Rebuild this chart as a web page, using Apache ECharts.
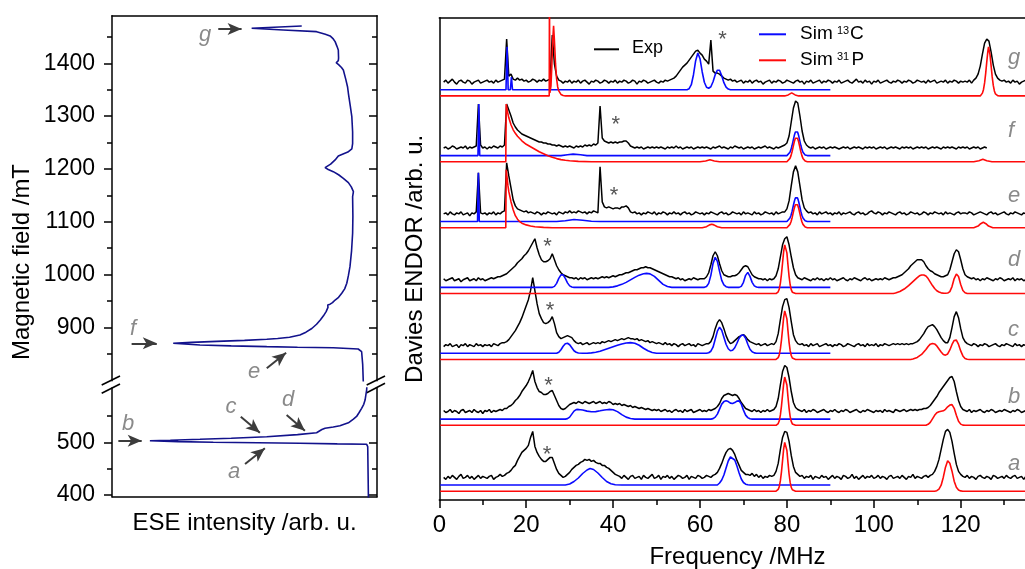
<!DOCTYPE html>
<html>
<head>
<meta charset="utf-8">
<script src="https://cdn.jsdelivr.net/npm/echarts@6/dist/echarts.min.js"></script>
<style>html,body{margin:0;padding:0;background:#fff}#c{width:1025px;height:569px}</style>
</head>
<body>
<div id="c"></div>
<script>
// ---------- ESE field sweep: [intensity (arb. u., 0-100), field (mT)] ----------
const eseUpper = [[71.6,1470.6],[52.7,1466.3],[64.6,1463.0],[77.2,1459.8],[80.5,1455],[82.3,1451.7],[83.5,1446],[84.2,1440.9],[84.9,1432],[85.4,1425.2],[85.5,1410],[85.4,1405],[84.6,1401],[85.6,1396.8],[86.6,1392],[87.3,1387.3],[88.2,1370],[88.9,1355],[89.2,1343.2],[89.9,1320],[90.5,1298.9],[90.8,1270],[90.8,1248],[90.5,1238],[89.0,1232],[86.5,1227],[85.4,1224.5],[84.2,1217],[82.5,1209],[80.4,1202.4],[81.6,1199],[83.5,1194.8],[85.5,1189],[87.3,1182.3],[89.2,1174],[90.3,1166],[91.1,1157],[90.8,1147.5],[90.9,1110],[90.8,1078.2],[90.4,1045],[89.8,1015],[89.2,998],[88.6,983.6],[87.8,973],[86.7,964.6],[85.5,957],[84.2,951.9],[83.2,947],[82.3,944],[81.4,942.5],[81.5,938],[80.8,930],[79.8,922],[78.6,914],[77.2,906],[75.4,898],[73.2,891],[70.9,885.7],[67,881.5],[62.5,879],[58.4,877.6],[50,875.5],[39.5,873.6],[30,871.8],[23.1,870.0],[33.2,866.8],[45,865.2],[58.4,863.6],[70,862.6],[83.5,861.7],[92.9,859.2],[94.2,854.1],[94.6,830],[94.8,800.5],[95.0,780]];
const eseLower = [[96.3,620],[96.1,599.2],[95.8,590],[95.5,580.2],[95.0,572],[94.2,564.5],[93.2,556],[92.3,549],[91.1,544],[89.2,537],[86.0,531.5],[83.5,529],[80.4,526.6],[79.2,524.2],[78.7,521.5],[77.2,518.2],[70,514.5],[58.4,510.6],[45,507.8],[33.2,505.7],[22,504],[14.3,503.0],[25,501.2],[38.2,500.0],[55,499],[70.9,498.1],[85,497],[96.1,496.2],[96.5,491.7],[96.8,380]];
const fieldRangeUpper = [799.2, 1490];
const fieldRangeLower = [396.8, 603];
const fieldMajorUpper = [900, 1000, 1100, 1200, 1300, 1400];
const fieldMinorUpper = [850, 950, 1050, 1150, 1250, 1350, 1450];
const fieldMajorLower = [400, 500];
const fieldMinorLower = [450, 550];
// field positions pointed at (from -> to), [x1, B1, x2, B2]
const arrowsUpper = [[40.1,1464.9,48.9,1464.9],[7.4,870.0,16.9,870.0],[58.4,822.7,65.7,852.2]];
const arrowsLower = [[2.4,503.0,11.2,503.0],[48.6,548.6,55.8,518.2],[65.9,551.8,72.8,522.0],[50.2,458.8,57.7,488.6]];

// ---------- Davies ENDOR spectra ----------
// experimental traces sampled every 0.5 MHz starting at 1.0 MHz
const expStart = 1.0, expStep = 0.5;
const expA = [
 0,-2,1,-1,2,0,-2,1,3,-1,0,2,-1,1,-2,0,2,-1,1,0,
 -1,1,2,-2,0,1,3,1,2,4,5,7,10,12,17,21,25,27,29,32,
 40,46,31,25,21,18,16,16,18,20,20,14,8,4,2,0,1,3,5,8,
 10,12,13,15,16,18,17,18,16,17,15,14,14,12,12,10,9,7,5,3,
 2,1,-1,2,0,-2,1,2,-1,0,1,-2,2,0,-1,1,3,-1,0,2,
 -2,1,0,2,-1,1,-2,0,2,1,-1,0,2,-2,1,0,-1,2,1,-1,
 0,2,1,0,2,3,5,9,14,20,25,28,29,27,23,17,12,7,5,3,
 3,2,4,1,3,0,2,-1,1,0,2,1,2,6,14,28,40,46,45,36,
 22,11,5,3,1,2,-1,1,0,2,-2,1,0,-1,2,0,1,-2,0,2,
 -1,1,0,-2,2,1,-1,0,3,-1,1,-2,0,2,-1,1,0,2,-1,0,
 2,-1,1,0,-2,1,2,-1,0,1,-1,2,0,-2,1,0,3,-1,1,0,
 -1,1,2,0,2,3,6,11,18,28,38,46,48,45,36,24,13,6,3,1,
 0,2,-1,1,0,-2,1,2,0,-1,1,0,-2,2,1,-1,0,1,-1,2,
 0,-1,1,2,-1,0,1,-2,1];
const expB = [
 1,-1,0,2,-1,1,0,-2,1,2,-1,0,1,-1,2,0,-1,1,-2,1,
 0,2,-1,1,0,1,2,1,3,3,5,6,8,11,13,16,20,23,26,30,
 35,41,30,24,20,19,17,17,18,20,21,16,11,6,3,2,3,5,7,8,
 9,8,10,9,8,10,9,8,9,10,8,9,10,8,9,8,10,9,7,8,
 7,8,6,7,6,5,6,4,5,4,3,4,3,2,3,2,1,2,1,2,
 0,1,2,0,1,-1,1,2,0,1,-1,2,0,1,2,-1,0,1,2,0,
 1,0,2,1,2,3,5,8,13,16,17,18,17,16,17,16,13,9,6,3,
 2,1,0,2,0,1,-1,1,0,2,0,1,2,5,13,27,40,46,44,34,
 20,9,4,2,1,0,2,-1,1,0,2,1,-1,0,1,2,0,-1,1,0,
 2,0,-1,1,0,2,1,-1,0,1,2,0,-1,1,0,2,1,0,-1,1,
 0,1,-1,2,0,1,0,-1,2,1,0,1,2,0,1,2,1,2,1,2,
 2,3,3,4,6,9,12,15,19,22,25,28,31,34,35,30,20,11,5,2,
 1,0,2,-1,1,0,1,2,0,-1,1,0,2,1,-1,0,1,0,2,1,
 0,-1,1,0,2,1,-1,0,1];
const expC = [
 -1,1,0,2,-1,0,1,-2,1,0,2,-1,1,0,-1,2,0,1,-1,1,
 0,1,-1,2,1,0,2,3,3,4,6,9,12,15,19,23,28,34,40,46,
 55,68,55,42,32,27,23,22,23,25,29,22,13,9,7,8,9,10,9,8,
 5,3,2,3,1,2,3,1,2,3,2,3,2,4,3,4,5,4,5,6,
 5,6,7,6,7,8,7,7,6,7,5,6,5,4,5,3,4,3,2,3,
 2,1,3,1,2,0,2,1,-1,1,2,0,1,2,0,1,-1,2,1,0,
 1,2,2,4,9,17,23,26,23,17,10,5,2,3,5,7,9,10,11,9,
 6,4,3,2,1,2,0,1,2,0,1,2,1,4,12,26,39,46,47,38,
 24,11,5,2,1,2,0,1,-1,2,0,1,2,-1,0,1,2,0,1,-1,
 1,0,2,1,-1,0,2,1,0,-1,1,2,0,1,-1,2,0,1,0,2,
 -1,1,0,2,1,0,1,2,1,2,1,2,1,2,1,2,2,3,4,6,
 9,12,16,19,20,21,19,16,12,8,5,3,3,8,18,29,34,28,17,8,
 4,2,1,0,2,1,-1,1,0,2,1,-1,0,1,2,0,-1,1,0,2,
 1,0,-1,2,0,1,-1,1,0];
const expD = [
 1,-1,0,1,2,-1,0,1,-2,0,1,2,-1,0,1,-1,2,0,1,-1,
 0,1,2,1,2,3,3,4,5,6,8,10,12,14,17,19,21,24,26,29,
 33,37,41,32,25,20,18,18,19,21,26,20,14,10,7,5,4,3,2,2,
 1,2,0,2,1,2,0,1,2,1,2,1,2,3,2,3,2,3,4,3,
 4,5,5,6,7,7,8,9,10,10,11,12,12,13,12,12,11,10,9,8,
 7,6,5,4,3,3,2,1,2,0,1,-1,0,1,0,2,1,0,1,1,
 1,3,7,15,24,28,24,16,9,5,4,3,3,4,4,5,7,10,13,14,
 13,9,5,3,2,1,1,0,1,-1,1,0,1,4,11,23,35,41,43,35,
 23,12,5,2,1,0,2,1,0,-1,1,0,2,0,1,-1,1,0,2,0,
 1,-1,0,1,2,0,-1,1,0,2,1,0,-1,1,2,0,1,-1,0,1,
 0,1,0,2,1,0,1,2,2,3,4,5,7,9,11,14,16,18,20,20,
 20,18,14,11,9,8,6,5,4,3,3,4,5,10,18,26,30,28,20,11,
 5,3,2,1,2,0,1,-1,1,0,2,1,0,-1,1,0,2,1,-1,0,
 1,0,2,-1,1,0,1,-1,0];
const expE = [
 0,1,-1,2,0,-1,1,0,2,-1,0,1,-2,1,0,2,41,1,0,1,
 -1,1,0,2,-1,1,0,2,3,51,38,26,14,8,5,4,3,2,3,1,
 2,1,0,2,1,-1,1,0,2,1,0,1,-1,2,1,0,2,1,3,1,
 2,1,3,2,1,2,0,2,1,3,2,1,47,12,7,6,7,6,5,6,
 6,5,7,7,8,6,2,1,2,0,1,-1,1,0,2,1,0,2,-1,1,
 0,2,1,-1,1,0,2,0,1,-1,1,2,0,1,-1,0,2,1,0,1,
 -1,1,0,2,1,0,-1,1,2,0,1,-1,0,2,1,0,1,-1,2,0,
 1,0,-1,2,0,1,-1,0,2,1,0,1,-1,2,0,1,2,2,5,13,
 28,42,48,42,28,14,6,3,1,2,0,1,-1,2,0,1,2,0,1,-1,
 1,0,2,-1,1,0,1,2,0,-1,1,2,0,1,-1,0,2,3,1,0,
 2,1,-1,1,0,2,1,0,-1,1,2,0,1,-1,0,2,1,0,1,-1,
 0,2,1,-1,1,0,2,1,0,1,-1,2,0,1,0,-1,1,2,0,1,
 1,0,2,1,-1,0,1,2,1,0,-1,1,2,0,1,-1,0,1,2,0,
 -1,1,0,2,1,0,-1,1,0];
const expF = [
 0,1,-1,0,2,1,-1,0,1,0,2,-1,1,0,1,2,44,3,0,1,
 -1,1,0,2,1,0,2,1,3,44,38,32,25,21,18,16,14,13,12,11,
 10,9,8,7,6,6,5,5,4,4,3,3,2,3,2,1,2,1,2,1,
 0,2,1,2,1,3,2,3,2,4,3,5,42,10,7,6,5,6,5,6,
 5,6,6,7,7,5,2,1,0,1,0,1,-1,0,1,0,1,0,1,0,
 1,0,-1,1,0,1,0,2,0,1,-1,0,1,0,1,-1,0,1,0,1,
 0,1,0,-1,1,0,1,2,0,1,0,-1,1,0,2,1,0,1,-1,0,
 1,0,1,-1,0,1,0,1,2,0,1,0,-1,1,0,1,2,3,5,12,
 26,40,47,45,32,17,7,3,1,0,1,-1,0,1,0,1,-1,0,1,0,
 1,0,-1,0,1,0,1,-1,0,1,0,1,0,-1,1,0,1,0,1,-1,
 0,1,0,1,-1,0,1,0,1,0,-1,1,0,1,0,1,-1,0,1,0,
 1,0,1,-1,0,1,0,1,0,-1,1,0,1,0,1,0,-1,1,0,1,
 0,1,-1,0,1,0,1,-1,0,1,0];
const expG = [
 0,2,-1,1,3,0,-2,1,2,0,-1,2,1,-2,0,1,2,-1,0,1,
 2,0,1,-1,2,0,1,2,3,43,6,8,3,2,4,2,3,1,2,0,
 1,3,2,0,2,1,3,1,2,3,47,18,6,2,1,-1,1,0,2,-1,
 1,0,2,-1,1,2,0,-2,1,0,2,1,-1,0,2,1,-1,1,0,2,
 -1,1,0,2,1,-1,0,2,1,-2,1,0,2,1,-1,0,1,2,0,-1,
 1,0,2,1,2,3,4,6,9,12,15,17,19,22,25,28,31,32,29,27,
 23,21,18,42,11,9,9,8,6,4,3,2,3,1,2,0,1,2,-1,1,
 0,2,-1,1,2,0,1,-2,0,1,2,-1,1,0,2,1,-1,0,2,1,
 0,-1,1,2,0,1,-2,1,0,2,-1,0,1,2,-1,1,0,2,1,-1,
 1,0,2,-1,0,1,2,0,-1,1,3,0,1,-1,2,0,1,-2,1,0,
 2,-1,0,1,2,0,-1,1,0,2,1,-1,1,0,2,1,-1,0,2,1,
 0,1,-1,2,0,1,2,-1,0,1,0,2,-1,1,0,2,1,-1,1,0,
 1,0,2,-1,2,4,8,16,28,39,43,41,30,17,8,4,2,1,2,0,
 1,-1,2,0,1,-2,0,1,2];

// simulated 13C spectra [MHz, intensity]
const simCa = [[0.2,0],[29,0],[30,1],[31,3.5],[32,7],[33,11.5],[34,15],[34.7,16.4],[35.5,15.5],[36.5,12],[37.5,7.5],[38.5,3.5],[39.5,1.2],[40.5,0.3],[42,0],[64,0],[64.5,2],[65,5],[65.5,10],[66,17],[66.5,24],[67,28],[67.4,28.7],[68,25],[68.5,19],[69,12],[69.5,6],[70,2.5],[70.5,0.8],[71,0.2],[71.5,0],[90,0]];
const simCb = [[0.2,0],[29,0],[29.5,0.5],[30,2],[30.5,5],[31,8],[31.5,9.5],[32,9.7],[33,9.2],[34,8],[35,7.3],[36,7.5],[37,8.3],[38,9.2],[39,9.7],[40,9.3],[41,7.5],[42,4.5],[43,2],[44,0.6],[45,0],[62.5,0],[63,0.5],[63.5,2],[64,5],[64.5,10],[65,15],[65.5,17.5],[66,18.3],[66.5,17.5],[67,16],[67.5,15.7],[68,16.5],[68.5,18],[69,18.2],[69.5,15],[70,9],[70.5,4],[71,1.5],[71.5,0.3],[72,0],[90,0]];
const simCc = [[0.2,0],[27,0],[27.5,1],[28,3.5],[28.5,7],[29,9.5],[29.5,10],[30,8.5],[30.5,5.5],[31,2.5],[31.5,1],[32,0.3],[33,0],[34,0],[35,0.4],[36,1],[37,2],[38,3.5],[39,5],[40,6.5],[41,8],[42,9.3],[43,10.3],[44,10.6],[45,10],[46,8],[47,5],[48,2.5],[49,0.8],[50,0],[61.5,0],[62,0.5],[62.5,2],[63,6],[63.5,14],[64,22],[64.5,26],[65,23],[65.5,16],[66,9],[66.5,4.5],[67,2.5],[67.5,3],[68,5.5],[68.5,10],[69,15],[69.5,18],[70,18.3],[70.5,15],[71,9],[71.5,4],[72,1.5],[72.5,0.4],[73,0],[90,0]];
const simCd = [[0.2,0],[26,0],[26.5,1],[27,4],[27.5,9],[28,12.5],[28.5,12.5],[29,9],[29.5,4.5],[30,1.5],[30.5,0.4],[31,0],[39,0],[40,0.5],[41,1.5],[42,3],[43,5],[44,7.5],[45,10],[46,12.2],[47,13.6],[47.7,14],[48.5,13.5],[49.5,11],[50.5,7],[51.5,3],[52.5,0.8],[53.5,0],[61,0],[61.5,0.8],[62,4],[62.5,12],[63,24],[63.5,30],[64,26],[64.5,16],[65,7],[65.5,2.5],[66,0.7],[66.5,0],[69,0],[69.5,1],[70,5],[70.5,12],[71,15],[71.5,11],[72,5],[72.5,1.5],[73,0.3],[73.5,0],[90,0]];
const simCe = [[0.2,0],[8.8,0],[9.0,48.7],[9.2,0],[27,0],[29,0.8],[31,2],[33,1.2],[35,0.3],[37,0],[80,0],[80.2,0.7],[80.45,1.6],[80.7,3.4],[80.95,6.2],[81.2,10.3],[81.45,15.2],[81.7,20],[81.95,23.6],[82.2,25],[82.45,23.6],[82.7,20],[82.95,15.2],[83.2,10.3],[83.45,6.2],[83.7,3.4],[83.95,1.6],[84.2,0.7],[84.7,0],[90,0]];
const simCf = [[0.2,0],[8.9,0],[9.1,51.7],[9.3,0],[28,0],[29.5,0.8],[30.8,1.5],[32.5,0.8],[34,0],[80,0],[80.2,0.7],[80.45,1.6],[80.7,3.4],[80.95,6.2],[81.2,10.3],[81.45,15.2],[81.7,20],[81.95,23.6],[82.2,25],[82.45,23.6],[82.7,20],[82.95,15.2],[83.2,10.3],[83.45,6.2],[83.7,3.4],[83.95,1.6],[84.2,0.7],[84.7,0],[90,0]];
const simCg = [[0.2,0],[15.35,0],[15.6,43],[15.85,0],[16.35,0],[16.6,12.7],[16.85,0],[57,0],[57.5,1],[58,5],[58.5,15],[59,29],[59.5,36.7],[60,31],[60.5,18],[61,7.5],[61.5,2.5],[62,1.5],[62.5,3],[63,8],[63.5,15],[64,19.5],[64.5,19.5],[65,14],[65.5,7],[66,2.5],[66.5,0.7],[67,0],[90,0]];

// simulated 31P spectra [MHz, intensity]
const simPa = [[0.2,0],[77.5,0],[78,1.8],[78.25,4.6],[78.5,10.5],[78.75,19.4],[79,30.6],[79.25,42],[79.5,48.8],[79.6,49.5],[79.75,48.1],[80,40.7],[80.25,28.6],[80.5,17.2],[80.75,8.8],[81,3.9],[81.25,1.4],[81.5,0.4],[82,0],[114,0],[114.5,0.5],[115,2],[115.5,6],[116,14],[116.5,24],[117,30.4],[117.2,30.6],[117.5,28],[118,20],[118.5,10],[119,4],[119.5,1.2],[120,0.3],[120.5,0],[140,0]];
const simPb = [[0.2,0],[77.5,0],[78,1.8],[78.25,4.5],[78.5,10.4],[78.75,19.2],[79,30.3],[79.25,41.5],[79.5,48.3],[79.6,49],[79.75,47.6],[80,40.3],[80.25,28.3],[80.5,17],[80.75,8.7],[81,3.9],[81.25,1.4],[81.5,0.4],[82,0],[112,0],[112.5,1],[113,3],[113.5,6.5],[114,10],[114.5,12.5],[115,13.5],[115.5,14],[116,14.5],[116.5,16],[117,18.5],[117.5,20.3],[118,20.7],[118.5,17],[119,10],[119.5,4],[120,1.2],[120.5,0.2],[121,0],[140,0]];
const simPc = [[0.2,0],[77.5,0],[78,1.8],[78.25,4.6],[78.5,10.5],[78.75,19.3],[79,30.5],[79.25,41.8],[79.5,48.6],[79.6,49.3],[79.75,47.9],[80,40.6],[80.25,28.5],[80.5,17.1],[80.75,8.8],[81,3.9],[81.25,1.4],[81.5,0.4],[82,0],[108.5,0],[109,0.5],[110,2],[111,5],[112,10],[112.5,13],[113,15.3],[113.5,16],[114,15.5],[114.5,13.5],[115,10.5],[115.5,7.5],[116,5],[116.5,4.3],[117,5.5],[117.5,9.5],[118,15],[118.5,19],[119,19.3],[119.5,15],[120,8.5],[120.5,3.5],[121,1],[121.5,0.2],[122,0],[140,0]];
const simPd = [[0.2,0],[77.5,0],[78,1.8],[78.25,4.6],[78.5,10.5],[78.75,19.4],[79,30.6],[79.25,42],[79.5,48.7],[79.6,49.4],[79.75,48],[80,40.7],[80.25,28.6],[80.5,17.2],[80.75,8.8],[81,3.9],[81.25,1.4],[81.5,0.4],[82,0],[104.5,0],[105,0.5],[106,2],[107,4.5],[108,8],[109,12],[110,16],[110.5,17.8],[111,18.6],[111.5,18.6],[112,17.5],[112.5,15],[113,11.5],[113.5,8],[114,5],[114.5,2.8],[115,1.5],[115.5,0.7],[116,0.4],[116.5,0.3],[117,0.5],[117.5,2],[118,7],[118.5,15],[119,19.5],[119.5,17],[120,9],[120.5,3],[121,0.8],[121.5,0],[140,0]];
const simPe = [[0.2,0],[15.3,0],[15.4,58],[15.6,50],[15.8,42],[16,36],[16.5,26],[17,18],[17.5,12],[18,8.5],[18.5,6],[19,4.5],[20,2.8],[21,1.6],[22,0.9],[24,0.3],[26,0],[60.5,0],[61.5,1],[62.2,2.8],[62.7,3.4],[63.2,2.8],[64,1],[65,0],[80,0],[80.2,0.7],[80.45,1.6],[80.7,3.3],[80.95,6],[81.2,10],[81.45,14.8],[81.7,19.5],[81.95,23],[82.2,24.4],[82.45,23],[82.7,19.5],[82.95,14.8],[83.2,10],[83.45,6],[83.7,3.3],[83.95,1.6],[84.2,0.7],[84.7,0],[123,0],[124,1.6],[124.6,4],[125.2,5.4],[125.8,4],[126.4,1.6],[127.4,0],[140,0]];
const simPf = [[0.2,0],[15.3,0],[15.4,57.7],[15.7,50],[16,44],[16.5,37],[17,32],[17.5,28.5],[18,25.5],[19,21],[20,17.5],[21,15],[22,12.5],[23,10],[24,8],[25,6],[26,4.5],[27,3.2],[28,2.2],[29,1.5],[30,1],[32,0.4],[35,0.1],[37,0],[60,0],[61.3,0.8],[62.3,2],[63.3,0.8],[64.5,0],[80,0],[80.2,0.7],[80.45,1.6],[80.7,3.4],[80.95,6.2],[81.2,10.3],[81.45,15.2],[81.7,20],[81.95,23.6],[82.2,25],[82.45,23.6],[82.7,20],[82.95,15.2],[83.2,10.3],[83.45,6.2],[83.7,3.4],[83.95,1.6],[84.2,0.7],[84.7,0],[123,0],[124.2,1],[125.1,2.5],[126,1],[127.2,0],[140,0]];
const simPg = [[0.2,0],[25.3,0],[25.35,100],[25.45,3],[25.7,10],[25.9,30],[26.1,55],[26.3,70],[26.5,55],[26.75,32],[27,17],[27.25,9],[27.5,5],[28,1.5],[28.5,0.4],[29,0],[79.5,0],[80.3,1],[81.1,3],[81.9,1],[82.7,0],[124.5,0],[125,2.8],[125.25,6.5],[125.5,13],[125.75,22.5],[126,34],[126.25,44.5],[126.4,49],[126.55,47],[126.75,41],[127,30],[127.25,19],[127.5,10.5],[127.75,5],[128,2],[128.5,0.3],[129,0],[140,0]];

const traceLabels = ['a','b','c','d','e','f','g'];
const freqTicks = [0, 20, 40, 60, 80, 100, 120, 140];

// ---------- layout / style ----------
const FONT = '"Liberation Sans", Arial, Helvetica, sans-serif';
const ESE_COLOR = '#12128c';
const ARROW_COLOR = '#3c3c3c';
const LETTER_COLOR = '#8a8a8a';
const STACK_STEP = 65.88, RED_BASE = 8.8, BLUE_LIFT = 6.2, EXP_LIFT = 13.8;

const traces = [
  {exp: expA, c: simCa, p: simPa},
  {exp: expB, c: simCb, p: simPb},
  {exp: expC, c: simCc, p: simPc},
  {exp: expD, c: simCd, p: simPd},
  {exp: expE, c: simCe, p: simPe},
  {exp: expF, c: simCf, p: simPf},
  {exp: expG, c: simCg, p: simPg}
];

function tickAxis(gridIndex, range, values, len, side, withLine, withLabels) {
  return {
    type: 'value', gridIndex: gridIndex, min: range[0], max: range[1], position: side,
    axisLine: {show: withLine, onZero: false, lineStyle: {color: '#000', width: 1.5}},
    axisTick: {show: true, inside: side === 'right', length: len, customValues: values,
               lineStyle: {color: '#000', width: 1.5}},
    axisLabel: {show: withLabels, customValues: values, margin: 17, color: '#000',
                fontSize: 23, fontFamily: FONT, formatter: v => String(v)},
    splitLine: {show: false}
  };
}

function arrowMark(list) {
  return {
    silent: true, symbol: ['none', 'arrow'], symbolSize: [9, 14], animation: false,
    label: {show: false}, emphasis: {disabled: true},
    lineStyle: {color: ARROW_COLOR, width: 2, type: 'solid'},
    data: list.map(a => [{coord: [a[0], a[1]]}, {coord: [a[2], a[3]]}])
  };
}

const series = [
  {type: 'line', xAxisIndex: 0, yAxisIndex: 0, data: eseUpper, symbol: 'none', silent: true,
   lineStyle: {color: ESE_COLOR, width: 1.6}, markLine: arrowMark(arrowsUpper)},
  {type: 'line', xAxisIndex: 1, yAxisIndex: 4, data: eseLower, symbol: 'none', silent: true,
   lineStyle: {color: ESE_COLOR, width: 1.6}, markLine: arrowMark(arrowsLower)}
];

traces.forEach((t, k) => {
  const rb = RED_BASE + STACK_STEP * k, bb = rb + BLUE_LIFT, eb = rb + EXP_LIFT;
  series.push({type: 'line', xAxisIndex: 2, yAxisIndex: 8, symbol: 'none', silent: true,
    data: t.exp.map((v, i) => [expStart + expStep * i, v + eb]),
    lineStyle: {color: '#000', width: 1.5}});
  series.push({type: 'line', xAxisIndex: 2, yAxisIndex: 8, symbol: 'none', silent: true,
    data: t.c.map(p => [p[0], p[1] + bb]),
    lineStyle: {color: '#0a0aff', width: 1.6}});
  series.push({type: 'line', xAxisIndex: 2, yAxisIndex: 8, symbol: 'none', silent: true,
    data: t.p.map(p => [p[0], p[1] + rb]),
    lineStyle: {color: '#ff0a0a', width: 1.6}});
});

function txt(x, y, text, size, color, opts) {
  return Object.assign({type: 'text', x: x, y: y, silent: true,
    style: Object.assign({text: text, fontSize: size, fontFamily: FONT, fill: color,
      align: 'center', verticalAlign: 'middle'}, (opts || {}))});
}
function seg(x1, y1, x2, y2, color, w) {
  return {type: 'line', silent: true, shape: {x1: x1, y1: y1, x2: x2, y2: y2},
          style: {stroke: color, lineWidth: w}};
}

const graphics = [
  // axis title of the field sweep
  Object.assign(txt(22, 262, 'Magnetic field /mT', 24, '#000'), {rotation: Math.PI / 2}),
  // broken-axis marks
  seg(101.7, 385, 120, 376, '#000', 1.6), seg(101.7, 393.3, 120, 384, '#000', 1.6),
  seg(366.7, 385, 385, 376, '#000', 1.6), seg(366.7, 392.7, 385, 383.3, '#000', 1.6),
  // field position letters
  txt(205, 35, 'g', 22, LETTER_COLOR, {fontStyle: 'italic'}),
  txt(133, 329, 'f', 22, LETTER_COLOR, {fontStyle: 'italic'}),
  txt(254, 372, 'e', 22, LETTER_COLOR, {fontStyle: 'italic'}),
  txt(288, 400, 'd', 22, LETTER_COLOR, {fontStyle: 'italic'}),
  txt(231, 407, 'c', 22, LETTER_COLOR, {fontStyle: 'italic'}),
  txt(128, 424, 'b', 22, LETTER_COLOR, {fontStyle: 'italic'}),
  txt(234, 472, 'a', 22, LETTER_COLOR, {fontStyle: 'italic'}),
  // legend
  seg(594, 49.3, 619, 49.3, '#000', 2),
  txt(632, 48.5, 'Exp', 18, '#000', {align: 'left'}),
  seg(759, 34.3, 786, 34.3, '#0a0aff', 2),
  txt(800, 33.9, 'Sim', 19, '#000', {align: 'left'}),
  txt(837, 31.2, '13', 11, '#000', {align: 'left'}),
  txt(850, 33.9, 'C', 19, '#000', {align: 'left'}),
  seg(759, 60.3, 786, 60.3, '#ff0a0a', 2),
  txt(800, 59.9, 'Sim', 19, '#000', {align: 'left'}),
  txt(837, 57.2, '31', 11, '#000', {align: 'left'}),
  txt(851.5, 59.9, 'P', 19, '#000', {align: 'left'})
];
// trace letters at the right edge
const letterY = [464, 397, 330, 260, 196, 131, 58];
traceLabels.forEach((l, k) => graphics.push(
  txt(1008, letterY[k], l, 22, LETTER_COLOR, {fontStyle: 'italic', align: 'left'})));
// asterisks marking the background line
const stars = [[547, 450], [548.5, 381], [550, 306], [547.5, 242.5], [614, 191.5], [615.8, 120.8], [722.5, 35]];
stars.forEach(s => graphics.push(txt(s[0], s[1] + 4.6, '*', 22, '#555')));

const option = {
  animation: false,
  backgroundColor: '#fff',
  grid: [
    {left: 112, top: 15.7, width: 265, height: 365, containLabel: false, outerBoundsMode: 'none'},
    {left: 112, top: 388, width: 265, height: 108.7, containLabel: false, outerBoundsMode: 'none'},
    {left: 439.3, top: 17.7, width: 608.3, height: 482.3, containLabel: false, outerBoundsMode: 'none'}
  ],
  xAxis: [
    {type: 'value', gridIndex: 0, min: 0, max: 100, position: 'top',
     axisLine: {show: true, onZero: false, lineStyle: {color: '#000', width: 1.5}},
     axisTick: {show: false}, axisLabel: {show: false}, splitLine: {show: false}},
    {type: 'value', gridIndex: 1, min: 0, max: 100, position: 'bottom',
     axisLine: {show: true, onZero: false, lineStyle: {color: '#000', width: 1.5}},
     axisTick: {show: false}, axisLabel: {show: false}, splitLine: {show: false},
     name: 'ESE intensity /arb. u.', nameLocation: 'middle', nameGap: 15,
     nameTextStyle: {fontSize: 24, color: '#000', fontFamily: FONT}},
    {type: 'value', gridIndex: 2, min: 0, max: 140, interval: 20, position: 'bottom',
     axisLine: {show: true, onZero: false, lineStyle: {color: '#000', width: 1.5}},
     axisTick: {show: true, length: 8, lineStyle: {color: '#000', width: 1.5}},
     minorTick: {show: true, splitNumber: 2, length: 5, lineStyle: {color: '#000', width: 1.5}},
     axisLabel: {show: true, margin: 13, fontSize: 24, color: '#000', fontFamily: FONT,
                 customValues: freqTicks, formatter: v => String(v)},
     splitLine: {show: false},
     name: 'Frequency /MHz', nameLocation: 'middle', nameGap: 45,
     nameTextStyle: {fontSize: 24, color: '#000', fontFamily: FONT, padding: [0, 12, 0, 0]}},
    {type: 'value', gridIndex: 2, min: 0, max: 140, position: 'top',
     axisLine: {show: true, onZero: false, lineStyle: {color: '#000', width: 1.5}},
     axisTick: {show: false}, axisLabel: {show: false}, splitLine: {show: false}}
  ],
  yAxis: [
    tickAxis(0, fieldRangeUpper, fieldMajorUpper, 8, 'left', true, true),
    tickAxis(0, fieldRangeUpper, fieldMinorUpper, 5, 'left', false, false),
    tickAxis(0, fieldRangeUpper, fieldMajorUpper, 8, 'right', true, false),
    tickAxis(0, fieldRangeUpper, fieldMinorUpper, 5, 'right', false, false),
    tickAxis(1, fieldRangeLower, fieldMajorLower, 8, 'left', true, true),
    tickAxis(1, fieldRangeLower, fieldMinorLower, 5, 'left', false, false),
    tickAxis(1, fieldRangeLower, fieldMajorLower, 8, 'right', true, false),
    tickAxis(1, fieldRangeLower, fieldMinorLower, 5, 'right', false, false),
    {type: 'value', gridIndex: 2, min: 0, max: 482.3, position: 'left',
     axisLine: {show: true, onZero: false, lineStyle: {color: '#000', width: 1.5}},
     axisTick: {show: false}, axisLabel: {show: false}, splitLine: {show: false},
     name: 'Davies ENDOR /arb. u.', nameLocation: 'middle', nameGap: 12,
     nameTextStyle: {fontSize: 24, color: '#000', fontFamily: FONT}}
  ],
  series: series,
  graphic: graphics
};

const chart = echarts.init(document.getElementById('c'), null, {renderer: 'canvas', width: 1025, height: 569});
chart.setOption(option);
</script>
</body>
</html>
